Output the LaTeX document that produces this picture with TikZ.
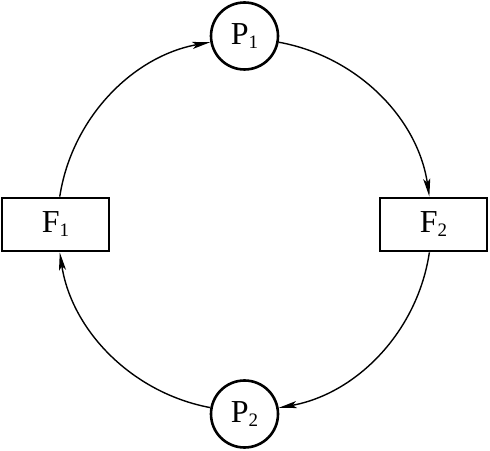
\documentclass[tikz,border=0pt]{standalone}
\usepackage{fontspec}
\setmainfont{Liberation Serif}
\usetikzlibrary{arrows.meta}
\newcommand\mysub[1]{\raisebox{-4pt}{\fontsize{19}{19}\selectfont #1}}
\begin{document}
\begin{tikzpicture}[x=1pt,y=1pt,
  lab/.style={font=\fontsize{32}{35}\selectfont, inner sep=0pt},
  pnode/.style={lab, circle, draw, line width=2.6pt, minimum size=67pt},
  fnode/.style={lab, rectangle, draw, line width=2.8pt, minimum width=107pt, minimum height=53pt},
  flow/.style={line width=1.4pt, -{Stealth[length=18pt,width=7pt,inset=4pt]}, looseness=0.94}]
\useasboundingbox (0,0) rectangle (490,450);
\node[pnode] (P1) at (244.5,414) {P\mysub{1}};
\node[pnode] (P2) at (244.5,36) {P\mysub{2}};
\node[fnode] (F1) at (55.5,225.5) {F\mysub{1}};
\node[fnode] (F2) at (433.5,225.5) {F\mysub{2}};
\draw[flow] (F1) to[out=81.4, in=190.4] (P1);
\draw[flow] (P1) to[out=-10.4, in=98.6] (F2);
\draw[flow] (F2) to[out=-98.6, in=10.4] (P2);
\draw[flow] (P2) to[out=169.6, in=-81.4] (F1);
\end{tikzpicture}
\end{document}
